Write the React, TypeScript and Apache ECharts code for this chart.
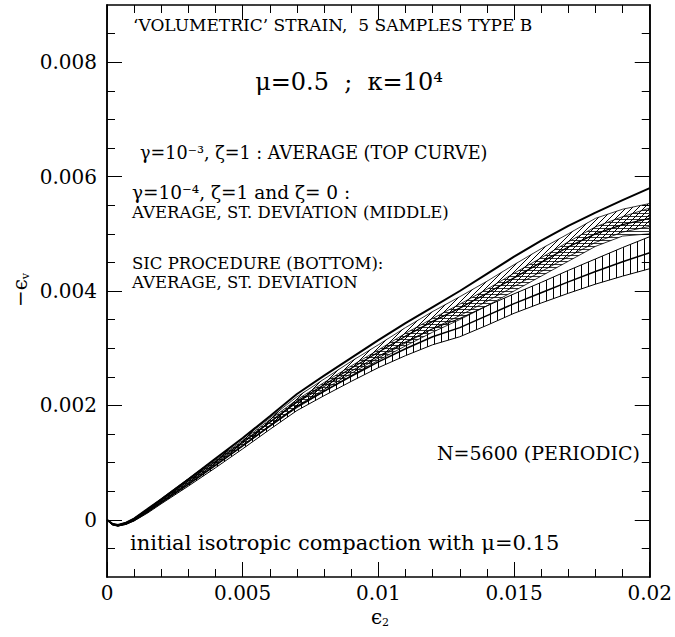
import React, { useEffect, useRef } from 'react';
import * as echarts from 'echarts';

// shear strain epsilon_2
const strain = [0, 0.0002, 0.0004, 0.0007, 0.001, 0.0015, 0.002, 0.003, 0.004, 0.005, 0.006, 0.007, 0.008, 0.009, 0.010, 0.011, 0.012, 0.013, 0.014, 0.015, 0.016, 0.017, 0.018, 0.019, 0.020];

// gamma=1e-3, zeta=1 : average (top curve)
const topAvg = [0, -0.00007, -0.00009, -0.00005, 0.00002, 0.00019, 0.00036, 0.00071, 0.00107, 0.00143, 0.00181, 0.0022, 0.00252, 0.00283, 0.00314, 0.00344, 0.00372, 0.004, 0.0043, 0.0046, 0.00488, 0.00514, 0.00537, 0.00559, 0.0058];

// gamma=1e-4 : middle bands
const midAvg = [0, -0.00008, -0.0001, -0.00006, 0.00001, 0.00017, 0.00034, 0.00068, 0.00102, 0.00136, 0.00171, 0.00207, 0.00236, 0.00265, 0.00293, 0.00321, 0.00347, 0.0037, 0.00396, 0.00423, 0.0045, 0.00477, 0.005, 0.00516, 0.00527];
const midZeta1Low = [0, -0.00009, -0.00011, -0.00007, -0.00001, 0.00015, 0.00031, 0.00065, 0.00098, 0.00131, 0.00165, 0.00199, 0.00228, 0.00256, 0.00283, 0.00309, 0.00334, 0.00357, 0.00382, 0.00408, 0.00434, 0.0046, 0.00485, 0.00503, 0.00513];
const midZeta1High = [0, -0.00007, -0.00009, -0.00005, 0.00003, 0.00019, 0.00037, 0.00072, 0.00107, 0.00142, 0.00178, 0.00215, 0.00246, 0.00277, 0.00306, 0.00336, 0.00364, 0.0039, 0.00417, 0.00446, 0.00474, 0.005, 0.00527, 0.00543, 0.00553];
const midZeta0Low = [0, -0.00009, -0.00011, -0.00008, -0.00001, 0.00014, 0.0003, 0.00063, 0.00096, 0.00129, 0.00163, 0.00196, 0.00224, 0.00252, 0.00279, 0.00304, 0.00328, 0.0035, 0.00374, 0.004, 0.00426, 0.00452, 0.00478, 0.00496, 0.005];
const midZeta0High = [0, -0.00007, -0.00009, -0.00005, 0.00002, 0.00019, 0.00036, 0.0007, 0.00104, 0.00139, 0.00175, 0.0021, 0.0024, 0.00269, 0.00297, 0.00326, 0.00352, 0.00377, 0.00403, 0.00431, 0.00458, 0.00486, 0.00512, 0.0053, 0.00545];

// SIC procedure (bottom)
const sicAvg = [0, -0.00008, -0.0001, -0.00007, -0.00001, 0.00014, 0.0003, 0.00062, 0.00095, 0.00129, 0.00164, 0.00198, 0.00225, 0.00251, 0.00276, 0.00299, 0.0032, 0.00336, 0.00357, 0.00378, 0.00397, 0.00416, 0.00434, 0.00451, 0.00467];
const sicLow = [0, -0.00008, -0.00011, -0.00008, -0.00002, 0.00012, 0.00028, 0.00059, 0.00091, 0.00124, 0.00158, 0.00191, 0.00217, 0.00242, 0.00266, 0.00287, 0.00306, 0.0032, 0.0034, 0.00361, 0.00379, 0.00396, 0.00412, 0.00426, 0.00439];
const sicHigh = [0, -0.00008, -0.00009, -0.00006, 0, 0.00016, 0.00032, 0.00065, 0.00099, 0.00134, 0.0017, 0.00205, 0.00233, 0.0026, 0.00286, 0.00311, 0.00334, 0.00352, 0.00374, 0.00395, 0.00415, 0.00436, 0.00456, 0.00476, 0.00495];

// axis ticks
const yMajorTicks = [0, 0.002, 0.004, 0.006, 0.008];
const yMinorTicks = [-0.0005, 0.0005, 0.001, 0.0015, 0.0025, 0.003, 0.0035, 0.0045, 0.005, 0.0055, 0.0065, 0.007, 0.0075, 0.0085];

const FONT = 'DejaVu Serif';

function hatch(kind: string): any {
  const c = document.createElement('canvas');
  let w = 7, h = 4;
  if (kind === 'h') { w = 4; h = 3; }
  if (kind === 'd') { w = 6; h = 6; }
  c.width = w; c.height = h;
  const ctx = c.getContext('2d')!;
  ctx.fillStyle = kind === 'h' ? '#333' : '#000';
  if (kind === 'v') ctx.fillRect(0, 0, 1, h);
  if (kind === 'h') ctx.fillRect(0, 0, w, 1);
  if (kind === 'd') for (let i = 0; i < 6; i++) ctx.fillRect(i, 5 - i, 1, 1);
  return { image: c, repeat: 'repeat', imageWidth: w, imageHeight: h };
}

function band(lower: number[], upper: number[], fill: any, z: number): any {
  return {
    type: 'custom',
    coordinateSystem: 'cartesian2d',
    silent: true,
    z,
    data: [[strain[0], lower[0]]],
    renderItem: (_p: any, api: any) => {
      const pts: number[][] = [];
      for (let i = 0; i < strain.length; i++) pts.push(api.coord([strain[i], upper[i]]));
      for (let i = strain.length - 1; i >= 0; i--) pts.push(api.coord([strain[i], lower[i]]));
      return { type: 'polygon', shape: { points: pts }, style: { fill, stroke: null } };
    },
  };
}

function line(vals: number[], width: number, z: number): any {
  return {
    type: 'line',
    data: strain.map((x, i) => [x, vals[i]]),
    showSymbol: false,
    silent: true,
    z,
    lineStyle: { color: '#000', width },
  };
}

export default function App() {
  const ref = useRef<HTMLDivElement>(null);
  useEffect(() => {
    const chart = echarts.init(ref.current!, null, { renderer: 'svg' });
    const axisLine = { show: true, onZero: false, lineStyle: { color: '#000', width: 1.5 } };
    const xBase = (pos: string, labels: boolean) => ({
      type: 'value', position: pos, min: 0, max: 0.02, interval: 0.005,
      axisLine,
      splitLine: { show: false },
      axisTick: { show: true, inside: true, length: 15, lineStyle: { color: '#000', width: 1 } },
      minorTick: { show: true, splitNumber: 5, length: 8, lineStyle: { color: '#000', width: 1 } },
      axisLabel: { show: labels, color: '#000', fontFamily: FONT, fontSize: 20, margin: 6, formatter: (v: number) => String(v) },
    });
    const yBase = (pos: string, ticks: number[], len: number, labels: boolean) => ({
      type: 'value', position: pos, min: -0.001, max: 0.009,
      axisLine,
      splitLine: { show: false },
      axisTick: { show: true, inside: true, length: len, customValues: ticks, lineStyle: { color: '#000', width: 1 } },
      axisLabel: { show: labels, customValues: ticks, color: '#000', fontFamily: FONT, fontSize: 20, margin: 10, formatter: (v: number) => String(v) },
    });
    const txt = (x: number, y: number, text: string, size: number, align = 'left') => ({
      type: 'text', x, y, style: { text, font: `${size}px "${FONT}"`, fill: '#000', align, verticalAlign: 'middle' },
    });
    chart.setOption({
      animation: false,
      backgroundColor: '#fff',
      grid: { left: 107, right: 21, top: 5, bottom: 60, containLabel: false },
      xAxis: [xBase('bottom', true), xBase('top', false)],
      yAxis: [
        yBase('left', yMajorTicks, 15, true),
        yBase('left', yMinorTicks, 8, false),
        yBase('right', yMajorTicks, 15, false),
        yBase('right', yMinorTicks, 8, false),
      ],
      series: [
        band(sicLow, sicHigh, hatch('v'), 1),
        band(midZeta0Low, midZeta0High, hatch('h'), 2),
        band(midZeta1Low, midZeta1High, hatch('d'), 3),
        line(sicLow, 1, 4),
        line(sicHigh, 1, 4),
        line(sicAvg, 1.5, 4),
        line(midZeta0Low, 0.8, 5),
        line(midZeta0High, 0.8, 5),
        line(midZeta1Low, 0.8, 5),
        line(midZeta1High, 0.8, 5),
        line(midAvg, 1.3, 5),
        line(topAvg, 2, 6),
      ],
      graphic: [
        txt(133, 25, '‘VOLUMETRIC’ STRAIN,  5 SAMPLES TYPE B', 17),
        txt(349, 82, 'μ=0.5  ;  κ=10⁴', 24, 'center'),
        txt(140, 153, 'γ=10⁻³, ζ=1 : AVERAGE (TOP CURVE)', 17.6),
        txt(132, 192, 'γ=10⁻⁴, ζ=1 and ζ= 0 :', 18.5),
        txt(132, 212, 'AVERAGE, ST. DEVIATION (MIDDLE)', 16.5),
        txt(132, 263, 'SIC PROCEDURE (BOTTOM):', 16.5),
        txt(132, 282, 'AVERAGE, ST. DEVIATION', 16.5),
        txt(640, 453, 'N=5600 (PERIODIC)', 19, 'right'),
        txt(130, 543, 'initial isotropic compaction with μ=0.15', 21),
        {
          type: 'text', x: 380, y: 617,
          style: {
            text: '{a|ϵ}{s|2}', align: 'center', verticalAlign: 'middle', fill: '#000',
            rich: { a: { fontFamily: FONT, fontSize: 20, fill: '#000' }, s: { fontFamily: FONT, fontSize: 11, fill: '#000', padding: [10, 0, 0, 0] } },
          },
        },
        {
          type: 'text', x: 20, y: 290, rotation: Math.PI / 2,
          style: {
            text: '{a|−ϵ}{s|v}', align: 'center', verticalAlign: 'middle', fill: '#000',
            rich: { a: { fontFamily: FONT, fontSize: 20, fill: '#000' }, s: { fontFamily: FONT, fontSize: 11, fill: '#000', padding: [10, 0, 0, 0] } },
          },
        },
      ],
    });
    return () => chart.dispose();
  }, []);
  return <div ref={ref} style={{ position: 'fixed', left: 0, top: 0, width: 675, height: 637, background: '#fff' }} />;
}
